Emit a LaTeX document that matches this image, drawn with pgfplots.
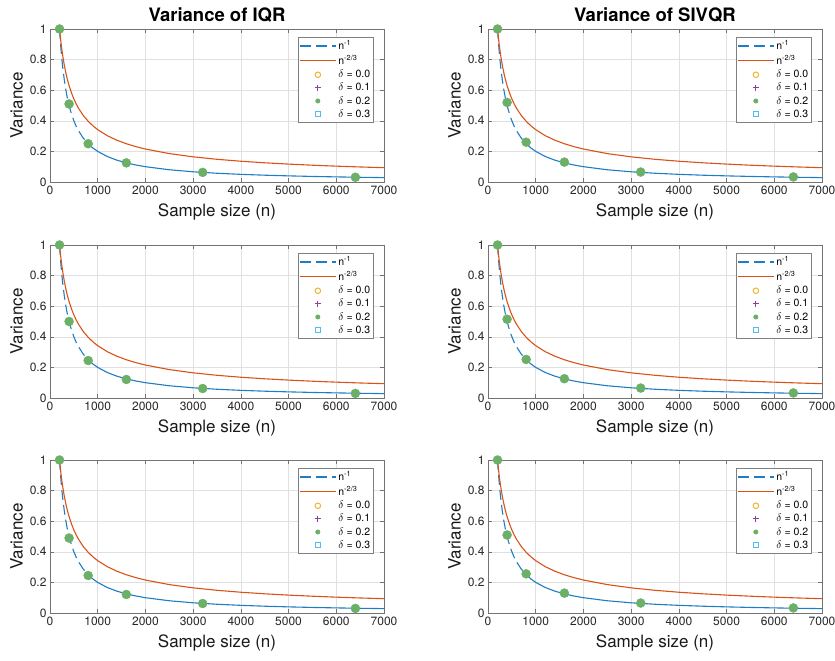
\documentclass[border=0pt]{standalone}
\usepackage{pgfplots}
\pgfplotsset{compat=1.18}
\usepackage{pgfplotstable}
\usepackage{fontspec}
\setmainfont{TeX Gyre Heros}
\definecolor{mblue}{rgb}{0.12,0.49,0.77}
\definecolor{mred}{rgb}{0.85,0.325,0.098}
\definecolor{myellow}{rgb}{0.929,0.694,0.125}
\definecolor{mpurple}{rgb}{0.56,0.25,0.62}
\definecolor{mgreen}{rgb}{0.42,0.69,0.40}
\definecolor{mcyan}{rgb}{0.301,0.745,0.933}

\pgfplotstableread{
n inv tt
200 1.00000 1.00000
210 0.95238 0.96800
220 0.90909 0.93843
230 0.86957 0.91104
240 0.83333 0.88555
250 0.80000 0.86177
270 0.74074 0.81867
300 0.66667 0.76314
330 0.60606 0.71616
360 0.55556 0.67583
400 0.50000 0.62996
450 0.44444 0.58238
500 0.40000 0.54288
550 0.36364 0.50946
600 0.33333 0.48075
700 0.28571 0.43379
800 0.25000 0.39685
900 0.22222 0.36688
1000 0.20000 0.34200
1200 0.16667 0.30285
1400 0.14286 0.27327
1600 0.12500 0.25000
1800 0.11111 0.23112
2000 0.10000 0.21544
2500 0.08000 0.18566
3000 0.06667 0.16441
3500 0.05714 0.14835
4000 0.05000 0.13572
4500 0.04444 0.12548
5000 0.04000 0.11696
5500 0.03636 0.10976
6000 0.03333 0.10357
6500 0.03077 0.09820
7000 0.02857 0.09347
}\curves

\pgfplotstableread{
n d0 d1 d2 d3
200 1.000 1.000 1.000 1.000
400 0.510 0.508 0.510 0.512
800 0.250 0.251 0.250 0.249
1600 0.125 0.126 0.125 0.124
3200 0.063 0.063 0.063 0.062
6400 0.031 0.031 0.031 0.031
}\dataA
\pgfplotstableread{
n d0 d1 d2 d3
200 1.000 1.000 1.000 1.000
400 0.520 0.518 0.520 0.522
800 0.260 0.259 0.260 0.261
1600 0.130 0.129 0.130 0.131
3200 0.065 0.065 0.065 0.066
6400 0.033 0.033 0.033 0.033
}\dataB
\pgfplotstableread{
n d0 d1 d2 d3
200 1.000 1.000 1.000 1.000
400 0.500 0.501 0.500 0.499
800 0.245 0.246 0.245 0.244
1600 0.121 0.121 0.121 0.122
3200 0.062 0.062 0.062 0.062
6400 0.030 0.030 0.030 0.030
}\dataC
\pgfplotstableread{
n d0 d1 d2 d3
200 1.000 1.000 1.000 1.000
400 0.515 0.516 0.515 0.514
800 0.252 0.251 0.252 0.253
1600 0.126 0.126 0.126 0.125
3200 0.065 0.065 0.065 0.064
6400 0.033 0.033 0.033 0.033
}\dataD
\pgfplotstableread{
n d0 d1 d2 d3
200 1.000 1.000 1.000 1.000
400 0.490 0.491 0.490 0.489
800 0.245 0.245 0.245 0.246
1600 0.121 0.121 0.121 0.120
3200 0.062 0.062 0.062 0.062
6400 0.030 0.030 0.030 0.030
}\dataE
\pgfplotstableread{
n d0 d1 d2 d3
200 1.000 1.000 1.000 1.000
400 0.510 0.511 0.510 0.509
800 0.256 0.256 0.256 0.255
1600 0.130 0.130 0.130 0.129
3200 0.065 0.065 0.065 0.065
6400 0.033 0.033 0.033 0.033
}\dataF

\pgfplotsset{
  panel/.style={
    scale only axis, width=334pt, height=153pt, anchor=south west,
    xmin=0, xmax=7000, ymin=0, ymax=1,
    xtick={0,1000,2000,3000,4000,5000,6000,7000},
    ytick={0,0.2,0.4,0.6,0.8,1},
    scaled x ticks=false,
    /pgf/number format/1000 sep={},
    /pgf/number format/assume math mode=true,
    grid=major, grid style={black!12, line width=0.5pt},
    axis line style={black!55, line width=0.6pt},
    tick style={black!55, line width=0.5pt},
    tick align=inside, tick pos=both, major tick length=4pt,
    tick label style={font=\fontsize{12}{14}\selectfont, text=black!85},
    xlabel={Sample size (n)}, ylabel={Variance},
    label style={font=\fontsize{17}{20}\selectfont, text=black!90},
    xlabel style={yshift=-3pt},
    ylabel style={yshift=0pt},
    title style={font=\bfseries\fontsize{18.5}{22}\selectfont, yshift=-3pt},
    legend cell align=left,
    legend style={at={(0.97,0.948)}, anchor=north east, draw=black!50,
      fill=white, font=\fontsize{10.5}{12.5}\selectfont, inner sep=1.5pt,
      row sep=0pt, line width=0.5pt},
    legend image code/.code={\draw[mark repeat=2,mark phase=2,#1]
      plot coordinates {(0pt,0pt) (18pt,0pt) (36pt,0pt)};},
  },
}

\newcommand{\panel}[4]{%
\begin{axis}[panel, at={(#1pt,#2pt)}, title={#3}]
\addplot[color=mblue, line width=1.1pt, dash pattern=on 10pt off 5pt, forget plot, restrict x to domain=200:800] table[x=n,y=inv]{\curves};
\addplot[color=mblue, line width=1.1pt, forget plot, restrict x to domain=800:7000] table[x=n,y=inv]{\curves};
\addplot[color=mred, line width=1.1pt, forget plot] table[x=n,y=tt]{\curves};
\addplot[only marks, mark=o, mark size=3pt, color=myellow, forget plot] table[x=n,y=d0]{#4};
\addplot[only marks, mark=+, mark size=3pt, color=mpurple, forget plot] table[x=n,y=d1]{#4};
\addplot[only marks, mark=square, mark size=2.5pt, color=mcyan, forget plot] table[x=n,y=d3]{#4};
\addplot[only marks, mark=*, mark size=4.5pt, color=mgreen, forget plot] table[x=n,y=d2]{#4};
\addlegendimage{color=mblue, line width=1.1pt, dash pattern=on 11pt off 5pt}
\addlegendentry{n\textsuperscript{-1}}
\addlegendimage{color=mred, line width=1.1pt}
\addlegendentry{n\textsuperscript{-2/3}}
\addlegendimage{only marks, mark=o, mark size=2.8pt, color=myellow, line width=0.9pt}
\addlegendentry{$\delta$ = 0.0}
\addlegendimage{only marks, mark=+, mark size=3.2pt, color=mpurple, line width=1.1pt}
\addlegendentry{$\delta$ = 0.1}
\addlegendimage{only marks, mark=*, mark size=2.2pt, color=mgreen}
\addlegendentry{$\delta$ = 0.2}
\addlegendimage{only marks, mark=square, mark size=2.4pt, color=mcyan, line width=0.9pt}
\addlegendentry{$\delta$ = 0.3}
\end{axis}}

\begin{document}
\begin{tikzpicture}
\useasboundingbox (0pt,0pt) rectangle (835pt,661pt);
\panel{50}{479}{Variance of IQR}{\dataA}
\panel{488}{479}{Variance of SIVQR}{\dataB}
\panel{50}{263}{}{\dataC}
\panel{488}{263}{}{\dataD}
\panel{50}{48}{}{\dataE}
\panel{488}{48}{}{\dataF}
\end{tikzpicture}
\end{document}
